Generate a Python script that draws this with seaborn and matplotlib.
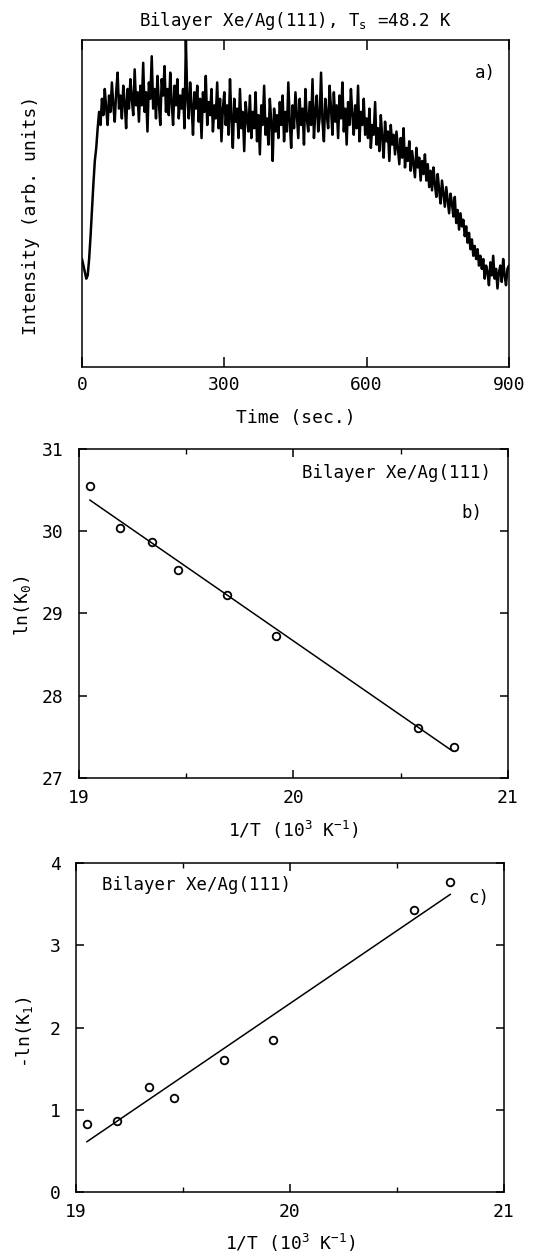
import matplotlib
matplotlib.use("Agg")
import matplotlib.pyplot as plt
from matplotlib.ticker import MultipleLocator
import pandas as pd
import seaborn as sns

# Isothermal desorption trace of the bilayer, one reading every 3 s
time_s = list(range(0, 903, 3))
intensity = [
    33, 31, 29, 27, 28, 33, 40, 48, 56, 63, 67, 73, 78, 74, 82, 77, 85, 79, 74, 83,
    78, 87, 80, 75, 84, 90, 79, 83, 76, 86, 81, 73, 85, 79, 88, 82, 77, 91, 80, 84,
    75, 86, 80, 93, 78, 84, 72, 87, 82, 95, 79, 85, 76, 89, 81, 74, 88, 83, 92, 78,
    85, 77, 90, 81, 74, 86, 80, 88, 76, 83, 79, 85, 73, 100, 82, 76, 87, 80, 71, 84,
    79, 86, 75, 82, 70, 84, 78, 89, 74, 81, 77, 85, 72, 80, 76, 87, 73, 82, 69, 79,
    84, 74, 80, 71, 88, 76, 67, 82, 75, 79, 70, 85, 73, 78, 66, 81, 76, 72, 83, 70,
    78, 73, 84, 69, 77, 65, 80, 74, 86, 71, 76, 68, 82, 75, 63, 79, 72, 77, 70, 81,
    74, 83, 69, 78, 72, 87, 75, 67, 80, 73, 84, 77, 70, 82, 74, 79, 68, 85, 76, 72,
    81, 74, 88, 70, 78, 83, 72, 76, 90, 75, 69, 82, 77, 73, 86, 79, 71, 84, 75, 80,
    70, 83, 76, 87, 72, 79, 68, 81, 74, 85, 77, 71, 80, 73, 86, 69, 78, 74, 82, 71,
    76, 70, 79, 67, 74, 71, 81, 68, 73, 66, 77, 70, 64, 75, 69, 72, 63, 74, 68, 71,
    65, 72, 67, 62, 70, 64, 73, 61, 67, 63, 69, 60, 66, 62, 58, 67, 61, 64, 57, 63,
    59, 65, 57, 62, 55, 60, 54, 61, 56, 52, 59, 54, 50, 57, 53, 49, 55, 51, 47, 53,
    50, 46, 52, 44, 48, 42, 47, 43, 45, 40, 43, 38, 41, 36, 39, 34, 37, 33, 36, 31,
    34, 30, 33, 27, 31, 29, 25, 32, 28, 34, 27, 30, 24, 29, 31, 26, 33, 28, 25, 30,
    31,
]

# Arrhenius data: inverse temperature (10^3 K^-1) and rate constants
inv_T = [19.05, 19.19, 19.34, 19.46, 19.69, 19.92, 20.58, 20.75]
ln_K0 = [30.55, 30.04, 29.87, 29.53, 29.22, 28.73, 27.61, 27.38]
neg_ln_K1 = [0.83, 0.86, 1.28, 1.14, 1.61, 1.85, 3.43, 3.77]

# End points of the straight-line fits
fit_b_x = [19.05, 20.74]
fit_b_y = [30.38, 27.33]
fit_c_x = [19.05, 20.75]
fit_c_y = [0.61, 3.62]

sns.set_theme(style="ticks")
plt.rcParams.update({
    "font.family": ["DejaVu Sans Mono"],
    "mathtext.fontset": "custom",
    "mathtext.rm": "DejaVu Sans Mono",
    "mathtext.it": "DejaVu Sans Mono",
    "mathtext.bf": "DejaVu Sans Mono",
    "axes.linewidth": 1.1,
    "axes.edgecolor": "black",
    "axes.facecolor": "white",
    "xtick.direction": "in",
    "ytick.direction": "in",
    "xtick.top": True,
    "ytick.right": True,
    "xtick.color": "black",
    "ytick.color": "black",
    "text.color": "black",
    "axes.labelcolor": "black",
})

fig = plt.figure(figsize=(5.41, 12.52), dpi=100)
ax_a = fig.add_axes([0.1516, 0.7069, 0.789, 0.2612])
ax_b = fig.add_axes([0.1460, 0.3786, 0.793, 0.2628])
ax_c = fig.add_axes([0.1405, 0.0479, 0.791, 0.2628])

FS = 13
TXT = 12.5

# ---- a) desorption trace ----
trace = pd.DataFrame({"t": time_s, "I": intensity})
sns.lineplot(data=trace, x="t", y="I", ax=ax_a, color="black", lw=1.8)
ax_a.set_xlim(0, 900)
ax_a.set_ylim(0, 100)
ax_a.set_xticks([0, 300, 600, 900])
ax_a.set_yticks([])
ax_a.tick_params(axis="x", length=7, width=1.1, labelsize=FS, pad=6.5)
ax_a.set_xlabel("Time (sec.)", fontsize=FS)
ax_a.xaxis.set_label_coords(0.5, -0.13)
ax_a.set_ylabel("Intensity (arb. units)", fontsize=FS)
ax_a.yaxis.set_label_coords(-0.098, 0.465)
ax_a.text(0.944, 0.90, "a)", transform=ax_a.transAxes, fontsize=TXT,
          ha="center", va="center")
fig.text(296 / 541, 1 - 21 / 1252, r"Bilayer Xe/Ag(111), T$_\mathrm{s}$ =48.2 K",
         fontsize=TXT, ha="center", va="center")


def arrhenius_panel(ax, y, fx, fy, ylim, yticks):
    pts = pd.DataFrame({"x": inv_T, "y": y})
    sns.scatterplot(data=pts, x="x", y="y", ax=ax, marker="o", s=30,
                    facecolor="white", edgecolor="black", linewidth=1.3,
                    zorder=2)
    fit = pd.DataFrame({"x": fx, "y": fy})
    sns.lineplot(data=fit, x="x", y="y", ax=ax, color="black", lw=1.1,
                 zorder=3)
    ax.set_xlim(19, 21)
    ax.set_ylim(*ylim)
    ax.set_xticks([19, 20, 21])
    ax.xaxis.set_minor_locator(MultipleLocator(0.5))
    ax.set_yticks(yticks)
    ax.tick_params(axis="both", which="major", length=6, width=1.1,
                   labelsize=FS)
    ax.tick_params(axis="x", which="major", pad=8)
    ax.tick_params(axis="y", which="major", pad=11)
    ax.tick_params(axis="x", which="minor", length=3.5, width=1.0)
    ax.tick_params(axis="y", which="minor", length=0)
    ax.set_xlabel(r"1/T (10$^3$ K$^{-1}$)", fontsize=FS)


# ---- b) prefactor ----
arrhenius_panel(ax_b, ln_K0, fit_b_x, fit_b_y, (27, 31), [27, 28, 29, 30, 31])
ax_b.xaxis.set_label_coords(0.5, -0.125)
ax_b.set_ylabel(r"ln(K$_0$)", fontsize=FS)
ax_b.yaxis.set_label_coords(-0.107, 0.523)
ax_b.text(0.960, 0.927, "Bilayer Xe/Ag(111)", transform=ax_b.transAxes,
          fontsize=TXT, ha="right", va="center")
ax_b.text(0.916, 0.805, "b)", transform=ax_b.transAxes, fontsize=TXT,
          ha="center", va="center")

# ---- c) rate constant ----
arrhenius_panel(ax_c, neg_ln_K1, fit_c_x, fit_c_y, (0, 4), [0, 1, 2, 3, 4])
ax_c.xaxis.set_label_coords(0.5, -0.12)
ax_c.set_ylabel(r"-ln(K$_1$)", fontsize=FS)
ax_c.yaxis.set_label_coords(-0.096, 0.486)
ax_c.text(0.061, 0.933, "Bilayer Xe/Ag(111)", transform=ax_c.transAxes,
          fontsize=TXT, ha="left", va="center")
ax_c.text(0.942, 0.894, "c)", transform=ax_c.transAxes, fontsize=TXT,
          ha="center", va="center")

for ax in (ax_a, ax_b, ax_c):
    for sp in ax.spines.values():
        sp.set_visible(True)
        sp.set_color("black")

fig.savefig("out.png", dpi=100, facecolor="white")
